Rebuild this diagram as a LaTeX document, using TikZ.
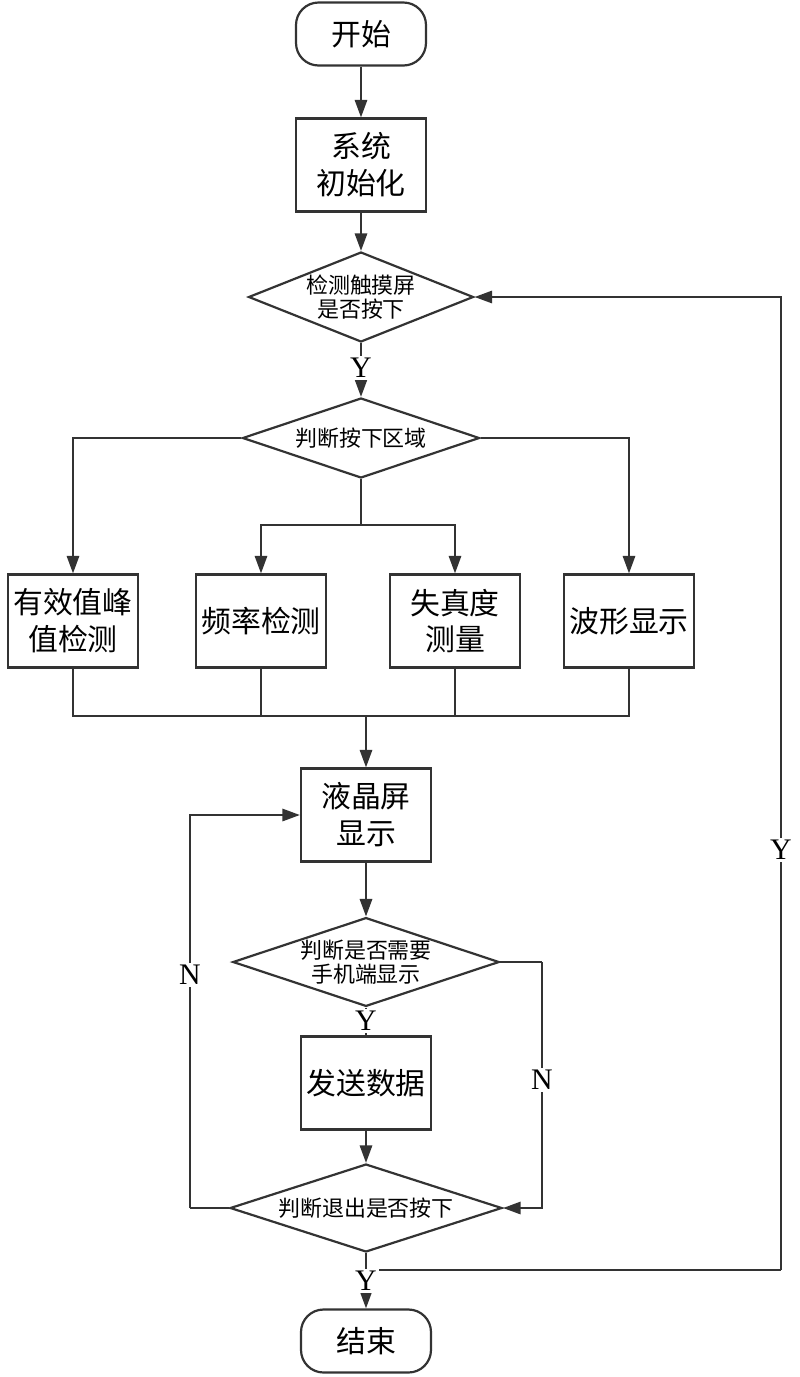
\documentclass[tikz,border=0pt]{standalone}
\usepackage{fontspec}
\setmainfont{Liberation Serif}
\newfontfamily\cjk{Noto Sans CJK SC}
\usetikzlibrary{shapes.geometric,arrows.meta}
\definecolor{lncol}{RGB}{51,51,51}
\begin{document}
\begin{tikzpicture}[x=0.02cm,y=-0.02cm,
  base/.style={draw=lncol, line width=1.25pt, text=black, align=center,
    font=\cjk\fontsize{17}{21}\selectfont},
  proc/.style={base, rectangle, minimum width=2.6cm, minimum height=1.86cm, inner sep=2pt},
  term/.style={base, rectangle, rounded corners=0.45cm, minimum width=2.6cm, minimum height=1.26cm},
  dec/.style={base, diamond, inner sep=0pt, font=\cjk\fontsize{12.5}{14}\selectfont},
  conn/.style={draw=lncol, line width=1.25pt},
  arr/.style={conn, -{Triangle[length=10pt,width=7pt]}},
  lbl/.style={fill=white, inner sep=1pt, text=black, font=\fontsize{17}{17}\selectfont}]
\fill[white] (0,0) rectangle (800,1377);
\useasboundingbox (0,0) rectangle (800,1377);

% nodes
\node[term] (start) at (361,34) {开始};
\node[proc] (init) at (361,165) {系统\\初始化};
\node[dec, aspect=2.5, minimum width=4.5cm, minimum height=1.8cm] (d1) at (361,297) {检测触摸屏\\是否按下};
\node[dec, aspect=3, minimum width=4.74cm, minimum height=1.6cm] (d2) at (361,438) {判断按下区域};
\node[proc] (b1) at (73,621) {有效值峰\\值检测};
\node[proc] (b2) at (261,621) {频率检测};
\node[proc] (b3) at (455,621) {失真度\\测量};
\node[proc] (b4) at (629,621) {波形显示};
\node[proc] (lcd) at (366,815) {液晶屏\\显示};
\node[dec, aspect=3, minimum width=5.3cm, minimum height=1.74cm] (d3) at (366,962) {判断是否需要\\手机端显示};
\node[proc] (send) at (366,1083) {发送数据};
\node[dec, aspect=3, minimum width=5.44cm, minimum height=1.76cm] (d4) at (366,1208) {判断退出是否按下};
\node[term] (end) at (366,1341) {结束};

% helper coordinates
\coordinate (split) at (361,525);
\coordinate (merge) at (366,716);
\coordinate (yb) at (366,1270);
\coordinate (rc) at (781,1270);
\coordinate (rn) at (542,962);
\coordinate (lc) at (190,1208);

% connectors
\draw[arr] (start) -- (init);
\draw[arr] (init) -- (d1);
\draw[arr] (d1) -- (d2);
\node[lbl] at (361,368) {Y};
\draw[arr] (d2.west) -| (b1.north);
\draw[arr] (d2.east) -| (b4.north);
\draw[conn] (d2.south) -- (split);
\draw[arr] (split) -| (b2.north);
\draw[arr] (split) -| (b3.north);
\draw[conn] (b1.south) |- (merge) -| (b4.south);
\draw[conn] (b2.south) -- (b2.south |- merge);
\draw[conn] (b3.south) -- (b3.south |- merge);
\draw[arr] (merge) -- (lcd.north);
\draw[arr] (lcd) -- (d3);
\draw[conn] (d3) -- (send);
\node[lbl] at (366,1021) {Y};
\draw[arr] (send) -- (d4);
\draw[arr] (d4) -- (end);
\draw[conn] (yb) -- (rc);
\draw[arr] (rc) |- (d1.east);
\node[lbl] at (366,1281) {Y};
\node[lbl] at (781,850) {Y};
\draw[conn] (d3.east) -- (rn);
\draw[arr] (rn) |- (d4.east);
\node[lbl] at (542,1080) {N};
\draw[conn] (d4.west) -- (lc);
\draw[arr] (lc) |- (lcd.west);
\node[lbl] at (190,975) {N};
\end{tikzpicture}
\end{document}
